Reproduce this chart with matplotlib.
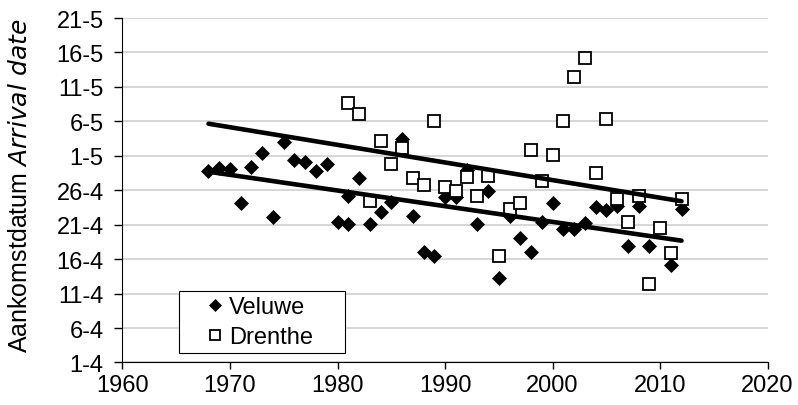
import numpy as np
import matplotlib.pyplot as plt

plt.rcParams['font.family'] = ['Liberation Sans', 'DejaVu Sans']

# day 0 = 1 April
veluwe_years = [1968, 1969, 1970, 1971, 1972, 1973, 1974, 1975, 1976, 1977,
                1978, 1979, 1980, 1981, 1981, 1982, 1983, 1984, 1985, 1986,
                1987, 1988, 1989, 1990, 1991, 1992, 1993, 1994, 1995, 1996,
                1997, 1998, 1999, 2000, 2001, 2002, 2003, 2004, 2005, 2006,
                2007, 2008, 2009, 2011, 2012]
veluwe_days = [27.75, 28.2, 28.1, 23.15, 28.4, 30.4, 21.1, 32.0, 29.4, 29.1,
               27.8, 28.85, 20.4, 24.1, 20.1, 26.8, 20.1, 21.8, 23.3, 32.4,
               21.2, 16.1, 15.4, 24.0, 24.0, 28.0, 20.1, 24.9, 12.2, 21.3,
               18.1, 16.1, 20.4, 23.15, 19.4, 19.4, 20.2, 22.5, 22.1, 22.7,
               16.9, 22.7, 16.9, 14.2, 22.3]

drenthe_years = list(range(1981, 2013))
drenthe_days = [37.6, 36.1, 23.5, 32.1, 28.8, 31.1, 26.8, 25.8, 35.1, 25.4,
                24.85, 26.9, 24.1, 27.1, 15.4, 22.3, 23.15, 30.8, 26.4, 30.1,
                35.1, 41.4, 44.15, 27.5, 35.4, 23.7, 20.4, 24.2, 11.4, 19.5,
                15.85, 23.8]

ytick_labels = ['1-4', '6-4', '11-4', '16-4', '21-4', '26-4',
                '1-5', '6-5', '11-5', '16-5', '21-5']
trend_range = [1968, 2012]

fig = plt.figure(figsize=(7.98, 4.06), dpi=100)
ax = fig.add_axes([0.1535, 0.1047, 0.8083, 0.8485])

ax.plot(veluwe_years, veluwe_days, 'D', color='black', ms=6.7, mew=0.5,
        label='Veluwe', zorder=3)
ax.plot(drenthe_years, drenthe_days, 's', mfc='white', mec='black', ms=8.3,
        mew=1.3, label='Drenthe', zorder=4)

xs = np.array(trend_range)
for yrs, days in [(veluwe_years, veluwe_days), (drenthe_years, drenthe_days)]:
    k, b = np.polyfit(yrs, days, 1)
    ax.plot(xs, k * xs + b, color='black', lw=3.3, solid_capstyle='round',
            zorder=5)

ax.set_xlim(1960, 2020)
ax.set_ylim(0, 50)
ax.set_xticks(range(1960, 2021, 10))
ax.set_yticks(range(0, 51, 5))
ax.set_yticklabels(ytick_labels)
ax.tick_params(labelsize=17, direction='out', width=1)
ax.tick_params(axis='x', length=5, pad=3)
ax.tick_params(axis='y', length=5.5, pad=8)
ax.grid(axis='y', color='#d0d0d0', lw=1.2)
ax.set_axisbelow(True)
for s in ['top', 'right']:
    ax.spines[s].set_visible(False)
ax.set_ylabel(r'Aankomstdatum $\it{Arrival\ date}$', fontsize=18)
ax.yaxis.set_label_coords(-0.141, 0.515)

leg = ax.legend(loc='lower left', bbox_to_anchor=(0.0881, 0.0276, 0.2569, 0.2),
                mode='expand', fontsize=17, fancybox=False, edgecolor='black',
                framealpha=1, handlelength=2.6, handletextpad=-0.7,
                borderpad=0.2, labelspacing=0.35, markerscale=0.9,
                borderaxespad=0)
leg.get_frame().set_linewidth(0.8)

fig.savefig('out.png', dpi=100)
